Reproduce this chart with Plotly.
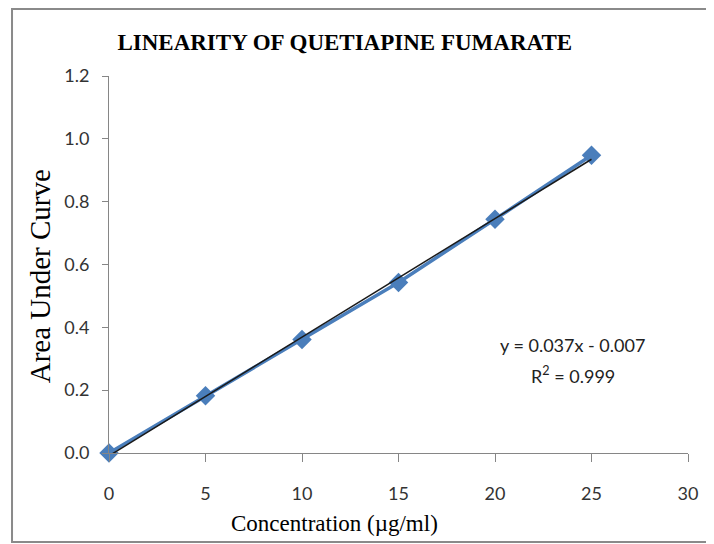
import numpy as np
import plotly.graph_objects as go

concentration = [0, 5, 10, 15, 20, 25]
area = [0.0, 0.182, 0.361, 0.543, 0.744, 0.948]
x_ticks = [0, 5, 10, 15, 20, 25, 30]
y_ticks = [0.0, 0.2, 0.4, 0.6, 0.8, 1.0, 1.2]
equation_text = "y = 0.037x - 0.007"
r2_text = "R<sup>2</sup> = 0.999"
x_title = "Concentration (µg/ml)"
y_title = "Area Under Curve"

slope, intercept = np.polyfit(concentration, area, 1)
trend_x = [concentration[0], concentration[-1]]
trend_y = [slope * v + intercept for v in trend_x]

sans = "Lato, Open Sans, sans-serif"
tick_font = dict(family=sans, size=18, color="#333333")
serif = "Liberation Serif, Times New Roman, serif"

fig = go.Figure()
fig.add_trace(go.Scatter(
    x=concentration, y=area, mode="lines+markers",
    line=dict(color="#4A7EBB", width=3.5),
    marker=dict(symbol="diamond", size=15, color="#4A7EBB"),
    cliponaxis=False, showlegend=False,
))
fig.add_trace(go.Scatter(
    x=trend_x, y=trend_y, mode="lines",
    line=dict(color="#1a1a1a", width=1.5),
    cliponaxis=False, showlegend=False,
))

fig.update_layout(
    width=706, height=536,
    margin=dict(l=101, r=26, t=68, b=91),
    paper_bgcolor="white", plot_bgcolor="white",
    title=dict(text="<b>LINEARITY OF QUETIAPINE FUMARATE</b>",
               font=dict(family=serif, size=23, color="#000000"),
               x=0.477, xanchor="center", y=0.9366, yanchor="middle"),
    xaxis=dict(range=[0, 30], tickvals=x_ticks, ticks="outside", ticklen=8,
               tickcolor="#868686", showline=True, linecolor="#868686", linewidth=1,
               showgrid=False, zeroline=False, tickfont=tick_font, ticklabelstandoff=16),
    yaxis=dict(range=[0, 1.2], tickvals=y_ticks, tickformat=".1f", ticks="outside", ticklen=6,
               tickcolor="#868686", showline=True, linecolor="#868686", linewidth=1,
               showgrid=False, zeroline=False, tickfont=tick_font, ticklabelstandoff=9),
    annotations=[
        dict(text=equation_text, x=0.801, y=0.2865, xref="paper", yref="paper",
             xanchor="center", yanchor="middle",
             showarrow=False, font=dict(family=sans, size=18, color="#222222")),
        dict(text=r2_text, x=0.801, y=0.207, xref="paper", yref="paper",
             xanchor="center", yanchor="middle",
             showarrow=False, font=dict(family=sans, size=18, color="#222222")),
        dict(text=x_title, x=0.390, y=-0.186, xref="paper", yref="paper",
             xanchor="center", yanchor="middle",
             showarrow=False, font=dict(family=serif, size=23, color="#000000")),
        dict(text=y_title, x=-0.119, y=0.469, xref="paper", yref="paper",
             xanchor="center", yanchor="middle", textangle=-90,
             showarrow=False, font=dict(family=serif, size=29, color="#000000")),
    ],
    shapes=[dict(type="rect", xref="paper", yref="paper",
                 x0=-0.1675, x1=1.038, y0=-0.236, y1=1.178,
                 line=dict(color="#8a8a8a", width=2), layer="below")],
)

fig.write_html("out.html")
